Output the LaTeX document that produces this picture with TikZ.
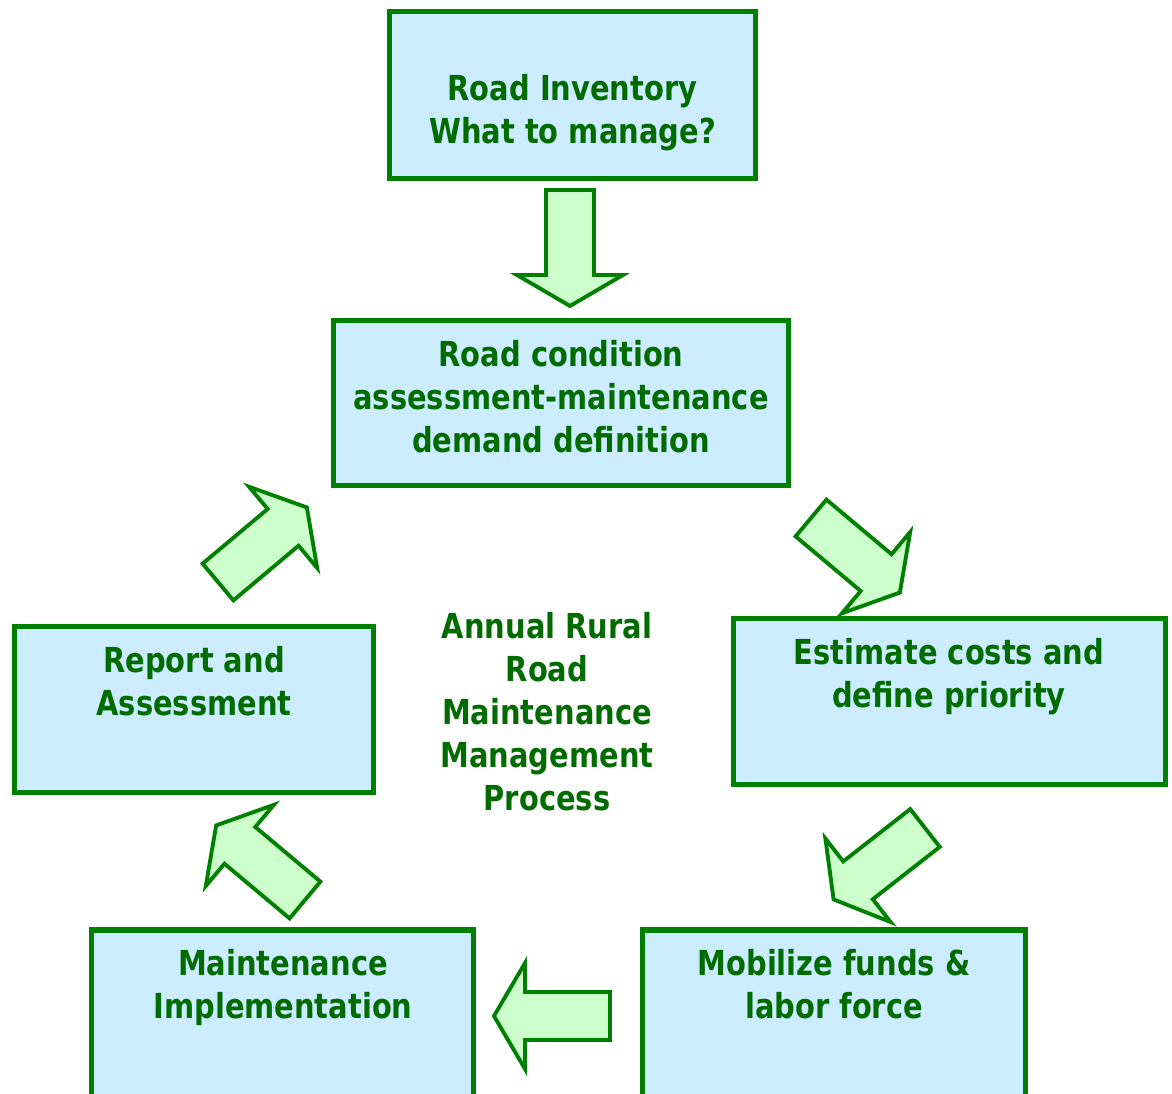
\documentclass[tikz,border=0pt]{standalone}
\usepackage{fontspec}
\setmainfont{DejaVu Sans}[FakeStretch=0.84]
\usepackage{tikz}
\usetikzlibrary{calc}
\definecolor{edgegreen}{RGB}{0,128,0}
\definecolor{textgreen}{RGB}{0,108,0}
\definecolor{boxblue}{RGB}{204,236,255}
\definecolor{arrowgreen}{RGB}{204,255,204}
\tikzset{
  box/.style={draw=edgegreen, fill=boxblue, line width=2.9pt, rectangle, inner sep=0pt},
  txt/.style={text=textgreen, font=\fontsize{19.6}{24.4}\selectfont\bfseries, align=center, inner sep=0pt},
  arrowline/.style={draw=edgegreen, fill=arrowgreen, line width=2.2pt, line join=miter},
  pics/blockarrow/.style={code={
    \draw[arrowline] (0,-24) -- (85,-24) -- (85,-53) -- (116,0) -- (85,53) -- (85,24) -- (0,24) -- cycle;
  }}
}
\begin{document}
\begin{tikzpicture}[x=0.02cm, y=-0.02cm]
        \useasboundingbox (0,0) rectangle (1172,1094);
        \clip (0,0) rectangle (1172,1094);
        % boxes
        \node[box, minimum width=366*0.02cm, minimum height=167*0.02cm] (inv) at (572.5,95) {};
        \node[box, minimum width=455*0.02cm, minimum height=165*0.02cm] (cond) at (561,403) {};
        \node[box, minimum width=432*0.02cm, minimum height=166*0.02cm] (est) at (949.5,701.5) {};
        \node[box, minimum width=383*0.02cm, minimum height=240*0.02cm] (mob) at (834,1050) {};
        \node[box, minimum width=382*0.02cm, minimum height=240*0.02cm] (impl) at (282.5,1050) {};
        \node[box, minimum width=359*0.02cm, minimum height=166*0.02cm] (rep) at (194,709.5) {};
        % texts
        \node[txt] (invT) at (572.5,113) {Road Inventory\\What to manage?};
        \node[txt] (condT) at (561,397) {Road condition\\assessment-maintenance\\demand definition};
        \node[txt] (estT) at (949,676.5) {Estimate costs and\\define priority};
        \node[txt] (mobT) at (834,984.5) {Mobilize funds \&\\labor force};
        \node[txt] (implT) at (283,987.5) {Maintenance\\Implementation};
        \node[txt] (repT) at (194,681.5) {Report and\\Assessment};
        \node[txt] (centerT) at (547,711.5) {Annual Rural\\Road\\Maintenance\\Management\\Process};
        % block arrows
        \pic[rotate=-90] at (570,190) {blockarrow};
        \pic[rotate=-40] at (811,518) {blockarrow};
        \pic[rotate=218] at (925,828) {blockarrow};
        \pic[rotate=180] at (610,1016) {blockarrow};
        \pic[rotate=140] at (305,900) {blockarrow};
        \pic[rotate=40] at (218,582) {blockarrow};
    \end{tikzpicture}
\end{document}
